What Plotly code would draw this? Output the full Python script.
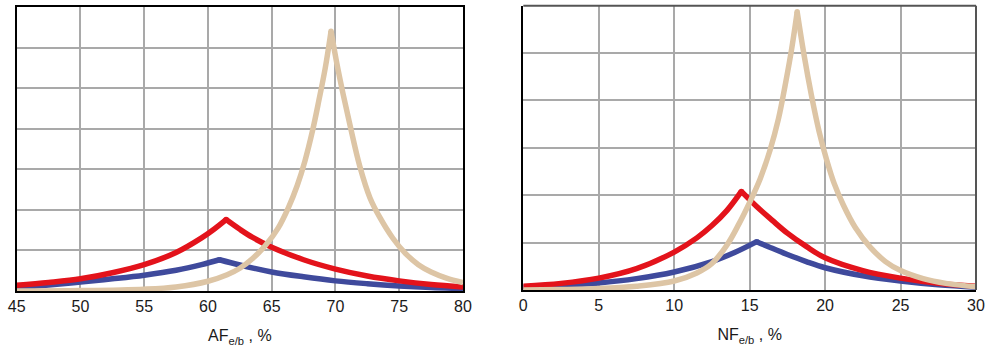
import plotly.graph_objects as go

# ---------- Left panel (AF e/b, %) ----------
af_tan_x = [45, 50, 55, 57.5, 60, 61.5, 62.5, 63.5, 64.5, 65.5, 66.3, 67.0, 67.6, 68.2, 68.7, 69.2, 69.65,
            70.1, 70.6, 71.2, 71.9, 72.7, 73.5, 74.5, 75.5, 76.5, 77.5, 78.7, 80]
af_tan_y = [0.0, 0.01, 0.045, 0.1, 0.24, 0.4, 0.56, 0.8, 1.12, 1.55, 2.05, 2.6, 3.2, 3.95, 4.7, 5.5, 6.4,
            5.62, 4.85, 4.0, 3.08, 2.3, 1.8, 1.3, 0.92, 0.65, 0.47, 0.32, 0.21]

af_red_x = [45, 47.5, 50, 52.5, 55, 57.5, 59.5, 60.5, 61.42, 62.5, 63.5, 65, 67.5, 70, 72.5, 75, 77.5, 80]
af_red_y = [0.14, 0.21, 0.3, 0.45, 0.65, 0.95, 1.31, 1.53, 1.76, 1.52, 1.32, 1.08, 0.77, 0.54, 0.37, 0.25, 0.16, 0.1]

af_blue_x = [45, 47.5, 50, 52.5, 55, 57.5, 59.5, 60.9, 62.5, 65, 67.5, 70, 72.5, 75, 77.5, 80]
af_blue_y = [0.08, 0.15, 0.22, 0.3, 0.39, 0.51, 0.65, 0.77, 0.64, 0.47, 0.35, 0.25, 0.18, 0.125, 0.085, 0.06]

af_ticks = [45, 50, 55, 60, 65, 70, 75, 80]

# ---------- Right panel (NF e/b, %) ----------
nf_tan_x = [0, 2.5, 5, 7.5, 10, 11.5, 12.5, 13.5, 14.3, 15.0, 15.7, 16.35, 16.9, 17.4, 17.8, 18.15,
            18.6, 19.1, 19.6, 20.1, 20.6, 21.2, 22, 23, 24, 25, 26.5, 28, 30]
nf_tan_y = [0.0, 0.01, 0.03, 0.08, 0.19, 0.36, 0.56, 0.95, 1.4, 1.85, 2.35, 2.95, 3.6, 4.4, 5.12, 5.87,
            4.97, 4.1, 3.35, 2.75, 2.25, 1.8, 1.32, 0.9, 0.6, 0.41, 0.24, 0.14, 0.07]

nf_red_x = [0, 2.5, 5, 7.5, 10, 11.5, 12.5, 13.5, 14.45, 15.5, 16.5, 17.5, 18.75, 20, 22.5, 25, 27.5, 30]
nf_red_y = [0.08, 0.14, 0.25, 0.45, 0.8, 1.1, 1.36, 1.68, 2.08, 1.75, 1.47, 1.2, 0.92, 0.68, 0.41, 0.25, 0.14, 0.08]

nf_blue_x = [0, 2.5, 5, 7.5, 10, 12.5, 14, 15.47, 16.5, 17.5, 18.75, 20, 22.5, 25, 27.5, 30]
nf_blue_y = [0.06, 0.1, 0.15, 0.24, 0.38, 0.6, 0.79, 1.02, 0.88, 0.75, 0.6, 0.47, 0.3, 0.19, 0.11, 0.06]

nf_ticks = [0, 5, 10, 15, 20, 25, 30]

TAN = "#DDC5A5"
RED = "#E3131B"
BLUE = "#3F4A9C"
GRID = "#A9A9A9"
FONT = "Liberation Sans Narrow, Arial Narrow, Liberation Sans, Arial, sans-serif"

fig = go.Figure()


def add_cusp(x, y, color, xa, ya, width=5.5):
    i = max(range(len(y)), key=lambda k: y[k])
    for xs, ys in ((x[:i + 1], y[:i + 1]), (x[i:], y[i:])):
        fig.add_trace(go.Scatter(x=xs, y=ys, mode="lines", xaxis=xa, yaxis=ya,
                                 line=dict(color=color, width=width, shape="spline", smoothing=1.0),
                                 hoverinfo="skip", showlegend=False))
    fig.add_trace(go.Scatter(x=[x[i]], y=[y[i]], mode="markers", xaxis=xa, yaxis=ya,
                             marker=dict(color=color, size=width, line=dict(width=0)),
                             hoverinfo="skip", showlegend=False))


for xa, ya, sets in (
    ("x", "y", [(af_blue_x, af_blue_y, BLUE), (af_red_x, af_red_y, RED), (af_tan_x, af_tan_y, TAN)]),
    ("x2", "y2", [(nf_blue_x, nf_blue_y, BLUE), (nf_red_x, nf_red_y, RED), (nf_tan_x, nf_tan_y, TAN)]),
):
    for xs, ys, c in sets:
        add_cusp(xs, ys, c, xa, ya)

W, H = 986, 354
axis_common = dict(showgrid=True, gridcolor=GRID, gridwidth=1.5, zeroline=False, automargin=False,
                   ticks="", showline=True, linecolor="#000000", linewidth=2)

fig.update_layout(
    width=W, height=H,
    margin=dict(l=0, r=0, t=0, b=0),
    paper_bgcolor="white", plot_bgcolor="white",
    font=dict(family=FONT, size=16, color="#1a1a1a"),
    xaxis=dict(domain=[16.7 / W, 463 / W], range=[45, 80], tickvals=af_ticks,
               ticktext=[str(t) for t in af_ticks], mirror=True, anchor="y",
               title=dict(text="AF<sub>e/b</sub> , %", standoff=16, font=dict(size=16)),
               **axis_common),
    yaxis=dict(domain=[1 - 291 / H, 1 - 7 / H], range=[0, 7], dtick=1, showticklabels=False,
               mirror=True, anchor="x", **axis_common),
    xaxis2=dict(domain=[523.3 / W, 976 / W], range=[0, 30], tickvals=nf_ticks,
                ticktext=[str(t) for t in nf_ticks], anchor="y2",
                title=dict(text="NF<sub>e/b</sub> , %", standoff=16, font=dict(size=16)),
                **axis_common),
    yaxis2=dict(domain=[1 - 290 / H, 1 - 5.7 / H], range=[0, 6], dtick=1, showticklabels=False,
                anchor="x2", **axis_common),
    shapes=[
        dict(type="line", xref="x2 domain", yref="y2 domain", x0=0, x1=1, y0=1, y1=1,
             line=dict(color="#555555", width=2)),
        dict(type="line", xref="x2 domain", yref="y2 domain", x0=1, x1=1, y0=0, y1=1,
             line=dict(color="#555555", width=2)),
    ],
)

fig.write_html("out.html")
